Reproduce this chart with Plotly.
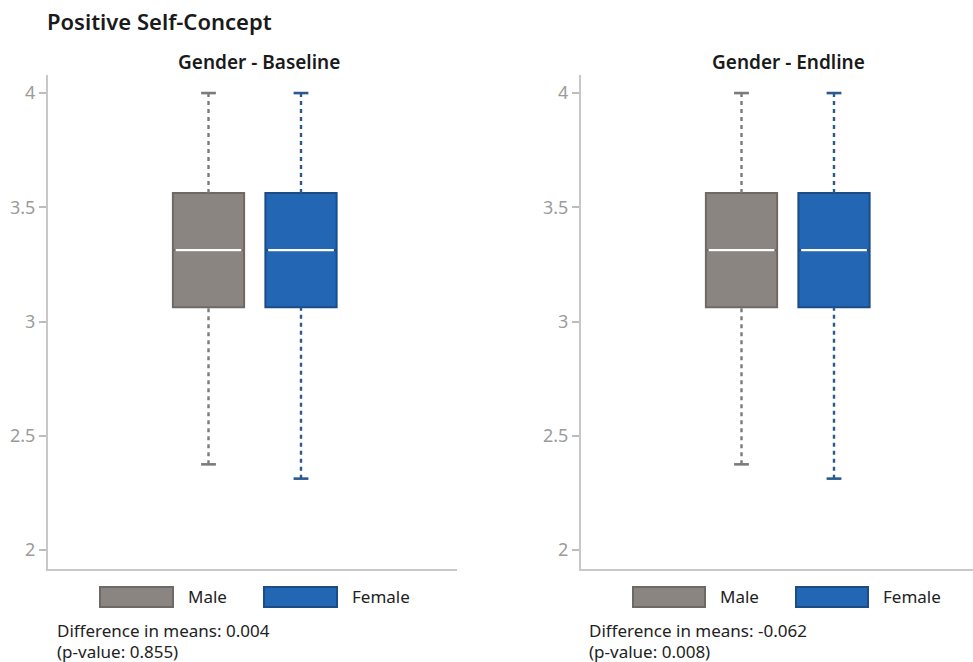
import plotly.graph_objects as go

# ---- data ---------------------------------------------------------------
panels = ["Gender - Baseline", "Gender - Endline"]
groups = ["Male", "Female"]

# five-number summaries per panel, ordered as in `groups`
q1 = [[3.0625, 3.0625], [3.0625, 3.0625]]
median = [[3.3125, 3.3125], [3.3125, 3.3125]]
q3 = [[3.5625, 3.5625], [3.5625, 3.5625]]
lower_fence = [[2.375, 2.3125], [2.375, 2.3125]]
upper_fence = [[4.0, 4.0], [4.0, 4.0]]

diff_means = ["0.004", "-0.062"]
p_values = ["0.855", "0.008"]

y_ticks = [2, 2.5, 3, 3.5, 4]
y_tick_text = ["2", "2.5", "3", "3.5", "4"]

# ---- styling ------------------------------------------------------------
W, H = 973, 662
FONT = "Noto Sans"
fill = {"Male": "#8b8581", "Female": "#2266b4"}
edge = {"Male": "#6f6965", "Female": "#1b4c85"}
whisk = {"Male": "#7d7b7a", "Female": "#29598f"}
positions = [0, 1]
box_w = 0.77
cap_w = 0.16


def px_x(p):
    return p / W


def px_y(p):
    return 1 - p / H


# pixel extents of each plotting area: (left, right)
areas = [(48, 457), (581, 973)]
unit_px = 92.5       # horizontal pixels per position unit
first_center = 160.5  # offset of first box centre from the left axis
top_px, bottom_px = 75, 569

fig = go.Figure()

for k, panel in enumerate(panels):
    xa = "x" if k == 0 else "x2"
    ya = "y" if k == 0 else "y2"
    for j, g in enumerate(groups):
        pos = positions[j]
        # box body (whiskers drawn separately as dashed lines)
        fig.add_trace(go.Box(
            x=[pos], q1=[q1[k][j]], median=[median[k][j]], q3=[q3[k][j]],
            lowerfence=[q1[k][j]], upperfence=[q3[k][j]],
            width=box_w, fillcolor=fill[g],
            line=dict(color=edge[g], width=2),
            xaxis=xa, yaxis=ya, showlegend=False, name=g,
            hoverinfo="skip",
        ))
        # white median line
        fig.add_trace(go.Scatter(
            x=[pos - box_w / 2 + 0.03, pos + box_w / 2 - 0.03],
            y=[median[k][j], median[k][j]],
            mode="lines", line=dict(color="white", width=2.2),
            xaxis=xa, yaxis=ya, showlegend=False, hoverinfo="skip",
        ))
        # dashed whiskers
        for lo, hi in ((lower_fence[k][j], q1[k][j]), (q3[k][j], upper_fence[k][j])):
            fig.add_trace(go.Scatter(
                x=[pos, pos], y=[lo, hi], mode="lines",
                line=dict(color=whisk[g], width=2.4, dash="4px,4px"),
                xaxis=xa, yaxis=ya, showlegend=False, hoverinfo="skip",
            ))
        # whisker caps
        for v in (lower_fence[k][j], upper_fence[k][j]):
            fig.add_trace(go.Scatter(
                x=[pos - cap_w / 2, pos + cap_w / 2], y=[v, v], mode="lines",
                line=dict(color=whisk[g], width=2.6),
                xaxis=xa, yaxis=ya, showlegend=False, hoverinfo="skip",
            ))

axis_common = dict(showgrid=False, zeroline=False)
layout_axes = {}
for k in range(2):
    left, right = areas[k]
    x0 = -(first_center) / unit_px
    x1 = x0 + (right - left) / unit_px
    suffix = "" if k == 0 else "2"
    layout_axes["xaxis" + suffix] = dict(
        domain=[px_x(left), min(1, px_x(right))],
        range=[x0, x1], showticklabels=False, ticks="",
        showline=True, linecolor="#c8c8c8", linewidth=2,
        anchor="y" + suffix, fixedrange=True, **axis_common,
    )
    layout_axes["yaxis" + suffix] = dict(
        domain=[px_y(bottom_px), px_y(top_px)],
        range=[1.917, 4.079], tickvals=y_ticks, ticktext=y_tick_text,
        ticks="outside", ticklen=7, tickwidth=1.5, tickcolor="#bdbdbd",
        tickfont=dict(family=FONT, size=18, color="#9b9b9b"),
        showline=True, linecolor="#c8c8c8", linewidth=2,
        anchor="x" + suffix, fixedrange=True, **axis_common,
    )


def note(text, x, y, size, anchor="left", color="#222222", weight="normal"):
    return dict(text=text, x=px_x(x), y=px_y(y), xref="paper", yref="paper",
                xanchor=anchor, yanchor="middle", showarrow=False,
                font=dict(family=FONT, size=size, color=color, weight=weight))


annotations = [note("Positive Self-Concept", 45, 21, 22, color="#1a1a1a",
                    weight=600)]
shapes = []
title_centers = [259, 788]
legend_boxes = [[(100, 173), (264, 337)], [(633, 705), (796, 868)]]
note_left = [55, 587]
for k, panel in enumerate(panels):
    annotations.append(note(panel, title_centers[k], 62, 19,
                            anchor="center", color="#1a1a1a", weight=600))
    for j, g in enumerate(groups):
        l, r = legend_boxes[k][j]
        shapes.append(dict(
            type="rect", xref="paper", yref="paper",
            x0=px_x(l), x1=px_x(r), y0=px_y(607), y1=px_y(587),
            fillcolor=fill[g], line=dict(color=edge[g], width=2)))
        annotations.append(note(g, r + 13, 596, 17))
    annotations.append(note("Difference in means: " + diff_means[k],
                            note_left[k], 630, 17))
    annotations.append(note("(p-value: " + p_values[k] + ")",
                            note_left[k], 651, 17))

fig.update_layout(
    width=W, height=H, autosize=False,
    margin=dict(l=0, r=0, t=0, b=0),
    paper_bgcolor="white", plot_bgcolor="white",
    boxmode="overlay",
    annotations=annotations, shapes=shapes,
    **layout_axes,
)

fig.write_html("out.html")
